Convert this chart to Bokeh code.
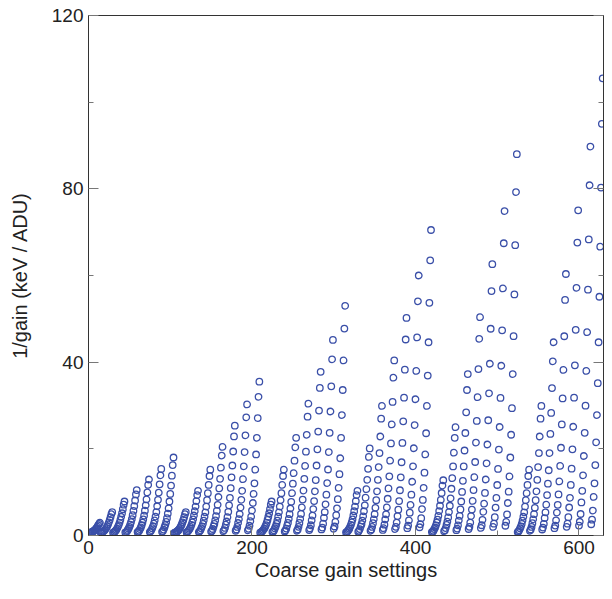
import numpy as np
from bokeh.plotting import figure
from bokeh.models import LinearAxis, Range1d, FixedTicker
from bokeh.embed import file_html
from bokeh.resources import INLINE

group_max = [17.5, 35, 52.5, 70, 87.5, 105]
sub_frac = [0.14, 0.28, 0.42, 0.57, 0.71, 0.85, 1.0]
shape = [0.02, 0.03, 0.05, 0.08, 0.11, 0.15, 0.2, 0.26, 0.33, 0.42, 0.52, 0.63, 0.76, 0.9, 1.0]

xs, ys = [], []
for g, gm in enumerate(group_max):
    for k, sf in enumerate(sub_frac):
        for j, s in enumerate(shape):
            xs.append(g * 105 + k * 15 + j)
            ys.append(gm * sf * s + 0.5)

p = figure(width=604, height=583, output_backend="svg", toolbar_location=None,
           x_range=Range1d(0, 630), y_range=Range1d(0, 120),
           min_border_left=88, min_border_top=15, min_border_right=1, min_border_bottom=46)
p.scatter(xs, ys, marker="circle", size=6.5, fill_color=None, line_color="#3a4fa8", line_width=1.3)
p.grid.visible = False
p.outline_line_color = "#333333"
p.xaxis.ticker = FixedTicker(ticks=[0, 200, 400, 600], minor_ticks=[100, 300, 500])
p.yaxis.ticker = FixedTicker(ticks=[0, 40, 80, 120], minor_ticks=[20, 60, 100])
r = LinearAxis(ticker=FixedTicker(ticks=[0, 40, 80, 120], minor_ticks=[20, 60, 100]))
p.add_layout(r, "right")
for ax in p.axis:
    ax.major_tick_in = 10; ax.major_tick_out = 0
    ax.minor_tick_in = 5; ax.minor_tick_out = 0
    ax.axis_line_color = "#333333"
    ax.major_tick_line_color = "#777777"; ax.minor_tick_line_color = "#777777"
    ax.major_label_text_font = "Liberation Sans"
    ax.major_label_text_font_size = "19px"
    ax.major_label_text_color = "#222222"
    ax.axis_label_text_font = "Liberation Sans"
    ax.axis_label_text_font_size = "20px"
    ax.axis_label_text_font_style = "normal"
    ax.axis_label_text_color = "#222222"
r.major_label_text_color = None
r.major_label_standoff = 0
p.xaxis[0].axis_label = "Coarse gain settings"
p.yaxis[0].axis_label = "1/gain (keV / ADU)"
p.xaxis.axis_label_standoff = 2
p.yaxis.axis_label_standoff = 18
open("out.html", "w").write(file_html(p, INLINE))
